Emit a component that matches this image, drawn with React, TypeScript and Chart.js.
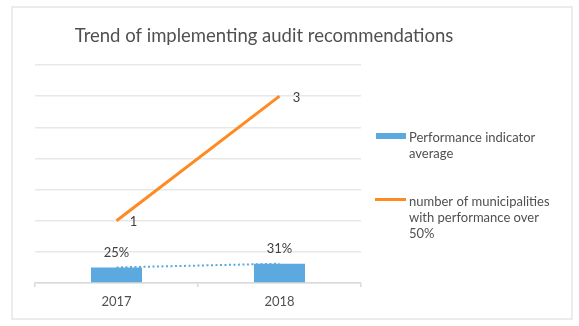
import React, { useEffect, useRef } from "react";
import { Chart, registerables } from "chart.js";

Chart.register(...registerables);

const categories = ["2017", "2018"];
const performanceAverage = [0.25, 0.31];
const performanceLabels = ["25%", "31%"];
const municipalitiesOver50 = [1, 3];
const trendValues = [0.25, 0.31];
const chartTitle = "Trend of implementing audit recommendations";
const legendBar = ["Performance indicator", "average"];
const legendLine = ["number of municipalities", "with performance over", "50%"];

const FONT = "Lato, 'Open Sans', sans-serif";
const BLUE = "#5ca9e0";
const ORANGE = "#ff8a22";
const TEXT = "#505050";

const decorPlugin = {
  id: "decor",
  beforeDraw(chart: any) {
    const ctx = chart.ctx;
    ctx.save();
    ctx.fillStyle = "#ffffff";
    ctx.fillRect(0, 0, chart.width, chart.height);
    ctx.strokeStyle = "#e6e6e6";
    ctx.lineWidth = 1.5;
    ctx.strokeRect(12, 7, 560, 312);
    ctx.restore();
  },
  afterDraw(chart: any) {
    const ctx = chart.ctx;
    ctx.save();
    // title
    ctx.fillStyle = TEXT;
    ctx.font = `18.5px ${FONT}`;
    ctx.textAlign = "center";
    ctx.textBaseline = "middle";
    ctx.fillText(chartTitle, 264, 36);

    // data labels
    ctx.font = `13px ${FONT}`;
    ctx.fillStyle = "#404040";
    const barMeta = chart.getDatasetMeta(0);
    barMeta.data.forEach((bar: any, i: number) => {
      ctx.textAlign = "center";
      ctx.fillText(performanceLabels[i], bar.x, bar.y - 14.5);
    });
    const lineMeta = chart.getDatasetMeta(1);
    lineMeta.data.forEach((pt: any, i: number) => {
      ctx.textAlign = "center";
      ctx.fillText(String(municipalitiesOver50[i]), pt.x + 17, pt.y + 1.5);
    });

    // legend
    ctx.fillStyle = BLUE;
    ctx.fillRect(376, 133, 30, 6);
    ctx.strokeStyle = ORANGE;
    ctx.lineWidth = 3;
    ctx.beginPath();
    ctx.moveTo(375, 199.5);
    ctx.lineTo(406, 199.5);
    ctx.stroke();
    ctx.fillStyle = TEXT;
    ctx.font = `13px ${FONT}`;
    ctx.textAlign = "left";
    legendBar.forEach((t, i) => ctx.fillText(t, 409, 138 + i * 16));
    legendLine.forEach((t, i) => ctx.fillText(t, 409, 202 + i * 16));
    ctx.restore();
  },
};

export default function App() {
  const ref = useRef<HTMLCanvasElement | null>(null);
  useEffect(() => {
    if (!ref.current) return;
    const chart = new Chart(ref.current, {
      type: "bar",
      data: {
        labels: categories,
        datasets: [
          {
            type: "bar",
            label: "Performance indicator average",
            data: performanceAverage,
            backgroundColor: BLUE,
            categoryPercentage: 1,
            barPercentage: 0.313,
            order: 3,
          },
          {
            type: "line",
            label: "number of municipalities with performance over 50%",
            data: municipalitiesOver50,
            borderColor: ORANGE,
            borderWidth: 3,
            pointRadius: 0,
            fill: false,
            order: 1,
          },
          {
            type: "line",
            label: "trend",
            data: trendValues,
            borderColor: BLUE,
            borderWidth: 2,
            borderDash: [2, 2.5],
            pointRadius: 0,
            fill: false,
            order: 2,
          },
        ] as any,
      },
      options: {
        animation: false,
        responsive: false,
        layout: { padding: { left: 35, right: 218, top: 65, bottom: 0 } },
        plugins: {
          legend: { display: false },
          title: { display: false },
          tooltip: { enabled: false },
        },
        scales: {
          x: {
            offset: true,
            grid: {
              offset: true,
              drawOnChartArea: false,
              drawTicks: true,
              tickLength: 4,
              color: "#d9d9d9",
              lineWidth: 1.5,
            },
            border: { display: true, color: "#d9d9d9", width: 1.5 },
            ticks: {
              color: TEXT,
              font: { family: FONT, size: 13 },
              padding: 7,
            },
            afterFit: (scale: any) => {
              scale.height = 43;
            },
          },
          y: {
            min: 0,
            max: 3.5,
            ticks: { display: false, stepSize: 0.5 },
            grid: { color: "#e8e8e8", lineWidth: 1.5, drawTicks: false },
            border: { display: false },
            afterFit: (scale: any) => {
              scale.width = 0;
            },
          },
        },
      },
      plugins: [decorPlugin],
    });
    return () => chart.destroy();
  }, []);
  return (
    <div style={{ position: "absolute", left: 0, top: 0, width: 579, height: 326 }}>
      <canvas ref={ref} width={579} height={326} style={{ display: "block" }} />
    </div>
  );
}
